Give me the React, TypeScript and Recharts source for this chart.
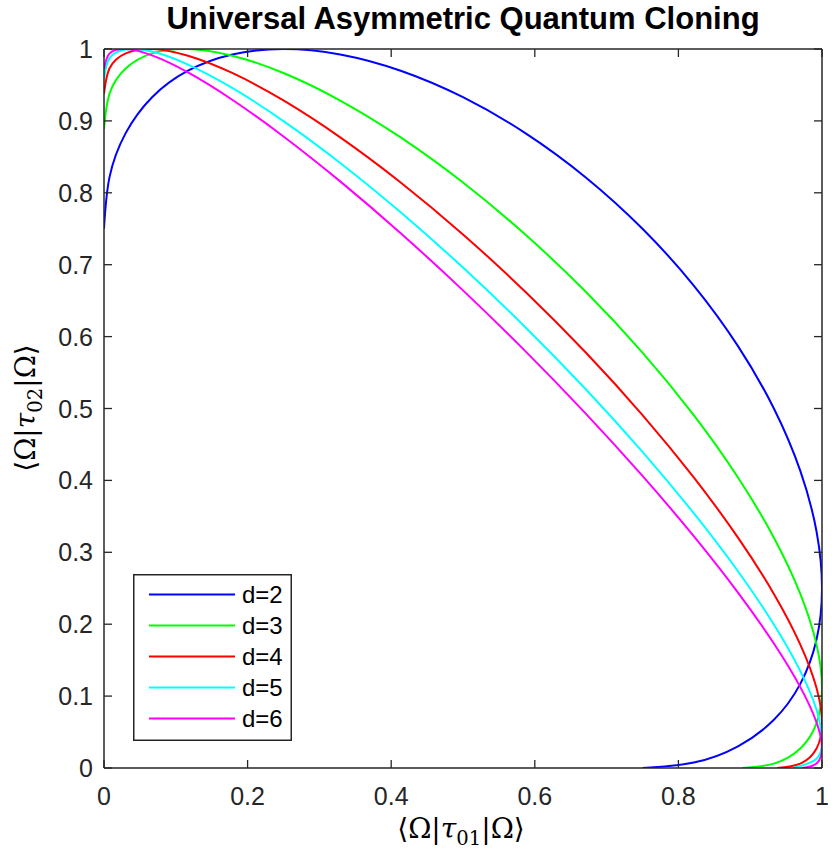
import React from "react";
import { LineChart, Line, XAxis, YAxis, Legend } from "recharts";

// x = <Omega|tau01|Omega>, y = <Omega|tau02|Omega>
const d2X = [0, 0.0076, 0.0302, 0.067, 0.117, 0.1786, 0.25, 0.329, 0.4132, 0.5, 0.5868, 0.671, 0.75, 0.8214, 0.883, 0.933, 0.9698, 0.9924, 1, 0.9924, 0.9698, 0.933, 0.883, 0.8214, 0.75];
const d2Y = [0.75, 0.8214, 0.883, 0.933, 0.9698, 0.9924, 1, 0.9924, 0.9698, 0.933, 0.883, 0.8214, 0.75, 0.671, 0.5868, 0.5, 0.4132, 0.329, 0.25, 0.1786, 0.117, 0.067, 0.0302, 0.0076, 0];

const d3X = [0, 0.0076, 0.0302, 0.067, 0.117, 0.1786, 0.25, 0.329, 0.4132, 0.5, 0.5868, 0.671, 0.75, 0.8214, 0.883, 0.933, 0.9698, 0.9924, 1, 0.9924, 0.9698, 0.933, 0.8889];
const d3Y = [0.8889, 0.9376, 0.9729, 0.9939, 0.9999, 0.9907, 0.9666, 0.9283, 0.877, 0.8143, 0.742, 0.6623, 0.5777, 0.4908, 0.4041, 0.3203, 0.2421, 0.1716, 0.1111, 0.0624, 0.0271, 0.0061, 0];

const d4X = [0, 0.0076, 0.0302, 0.067, 0.117, 0.1786, 0.25, 0.329, 0.4132, 0.5, 0.5868, 0.671, 0.75, 0.8214, 0.883, 0.933, 0.9698, 0.9924, 1, 0.9924, 0.9698, 0.9375];
const d4Y = [0.9375, 0.9729, 0.9939, 0.9999, 0.9907, 0.9667, 0.9284, 0.8771, 0.8144, 0.7421, 0.6624, 0.5778, 0.4909, 0.4042, 0.3204, 0.2421, 0.1717, 0.1112, 0.0625, 0.0271, 0.0061, 0];

const d5X = [0, 0.0076, 0.0302, 0.067, 0.117, 0.1786, 0.25, 0.329, 0.4132, 0.5, 0.5868, 0.671, 0.75, 0.8214, 0.883, 0.933, 0.9698, 0.9924, 1, 0.9924, 0.96];
const d5Y = [0.96, 0.987, 0.9993, 0.9964, 0.9783, 0.9458, 0.8997, 0.8415, 0.7729, 0.696, 0.6131, 0.5268, 0.4397, 0.3544, 0.2736, 0.1996, 0.1348, 0.081, 0.04, 0.013, 0];

const d6X = [0, 0.0076, 0.0302, 0.067, 0.117, 0.1786, 0.25, 0.329, 0.4132, 0.5, 0.5868, 0.671, 0.75, 0.8214, 0.883, 0.933, 0.9698, 0.9924, 1, 0.9924, 0.9722];
const d6Y = [0.9722, 0.9936, 0.99995, 0.9911, 0.9674, 0.9294, 0.8784, 0.8159, 0.7438, 0.6643, 0.5798, 0.4929, 0.4062, 0.3224, 0.2439, 0.1732, 0.1125, 0.0635, 0.0278, 0.0064, 0];

const xTicks = [0, 0.2, 0.4, 0.6, 0.8, 1];
const yTicks = [0, 0.1, 0.2, 0.3, 0.4, 0.5, 0.6, 0.7, 0.8, 0.9, 1];

const zip = (xs: number[], ys: number[]) => xs.map((x, i) => ({ x, y: ys[i] }));

const series = [
  { name: "d=2", color: "#0000ff", data: zip(d2X, d2Y) },
  { name: "d=3", color: "#00ff00", data: zip(d3X, d3Y) },
  { name: "d=4", color: "#ff0000", data: zip(d4X, d4Y) },
  { name: "d=5", color: "#00ffff", data: zip(d5X, d5Y) },
  { name: "d=6", color: "#ff00ff", data: zip(d6X, d6Y) },
];

const FONT = "'Liberation Sans', Arial, Helvetica, sans-serif";
const SERIF = "'DejaVu Serif', 'Liberation Serif', serif";
const AXIS = "#262626";
const TICK = 8;

const BottomTick = (props: any) => {
  const { x, y, payload } = props;
  return (
    <g>
      <line x1={x} y1={y} x2={x} y2={y - TICK} stroke={AXIS} strokeWidth={1.3} />
      <text x={x} y={y + 37} textAnchor="middle" fontFamily={FONT} fontSize={25} fill={AXIS}>
        {String(payload.value)}
      </text>
    </g>
  );
};

const LeftTick = (props: any) => {
  const { x, y, payload } = props;
  return (
    <g>
      <line x1={x} y1={y} x2={x + TICK} y2={y} stroke={AXIS} strokeWidth={1.3} />
      <text x={x - 11} y={y + 9} textAnchor="end" fontFamily={FONT} fontSize={25} fill={AXIS}>
        {String(payload.value)}
      </text>
    </g>
  );
};

const TopTick = (props: any) => {
  const { x, y } = props;
  return <line x1={x} y1={y} x2={x} y2={y + TICK} stroke={AXIS} strokeWidth={1.3} />;
};

const RightTick = (props: any) => {
  const { x, y } = props;
  return <line x1={x} y1={y} x2={x - TICK} y2={y} stroke={AXIS} strokeWidth={1.3} />;
};

const LegendBox = (props: any) => {
  const items = props.payload || [];
  const w = 159;
  const h = 167;
  return (
    <svg width={w} height={h} style={{ display: "block" }}>
      <rect x={0.75} y={0.75} width={w - 1.5} height={h - 1.5} fill="#fff" stroke={AXIS} strokeWidth={1.5} />
      {items.map((it: any, i: number) => {
        const cy = 20.5 + i * 31;
        return (
          <g key={it.value}>
            <line x1={16} y1={cy} x2={102} y2={cy} stroke={it.color} strokeWidth={2} />
            <text x={109} y={cy + 8.5} fontFamily={FONT} fontSize={24} fill="#000">
              {it.value}
            </text>
          </g>
        );
      })}
    </svg>
  );
};

export default function App() {
  return (
    <div style={{ position: "absolute", left: 0, top: 0, width: 832, height: 850, background: "#fff" }}>
      <div
        style={{
          position: "absolute",
          left: 104,
          width: 718,
          top: 3,
          textAlign: "center",
          fontFamily: FONT,
          fontWeight: "bold",
          fontSize: 31,
          lineHeight: "32px",
          color: "#000",
          whiteSpace: "nowrap",
        }}
      >
        Universal Asymmetric Quantum Cloning
      </div>

      <LineChart width={832} height={850} margin={{ top: 0, right: 0, bottom: 0, left: 0 }}>
        <XAxis
          xAxisId="b"
          dataKey="x"
          type="number"
          domain={[0, 1]}
          allowDataOverflow
          ticks={xTicks}
          height={82}
          tickSize={0}
          tickMargin={0}
          tickLine={false}
          axisLine={{ stroke: AXIS, strokeWidth: 1.5 }}
          tick={<BottomTick />}
          interval={0}
        />
        <XAxis
          xAxisId="t"
          orientation="top"
          dataKey="x"
          type="number"
          domain={[0, 1]}
          allowDataOverflow
          ticks={xTicks}
          height={49}
          tickSize={0}
          tickMargin={0}
          tickLine={false}
          axisLine={{ stroke: AXIS, strokeWidth: 1.5 }}
          tick={<TopTick />}
          interval={0}
        />
        <YAxis
          yAxisId="l"
          type="number"
          domain={[0, 1]}
          allowDataOverflow
          ticks={yTicks}
          width={104}
          tickSize={0}
          tickMargin={0}
          tickLine={false}
          axisLine={{ stroke: AXIS, strokeWidth: 1.5 }}
          tick={<LeftTick />}
          interval={0}
        />
        <YAxis
          yAxisId="r"
          orientation="right"
          type="number"
          domain={[0, 1]}
          allowDataOverflow
          ticks={yTicks}
          width={10}
          tickSize={0}
          tickMargin={0}
          tickLine={false}
          axisLine={{ stroke: AXIS, strokeWidth: 1.5 }}
          tick={<RightTick />}
          interval={0}
        />
        {series.map((s) => (
          <Line
            key={s.name}
            xAxisId="b"
            yAxisId="l"
            data={s.data}
            dataKey="y"
            name={s.name}
            type="natural"
            stroke={s.color}
            strokeWidth={2}
            dot={false}
            activeDot={false}
            isAnimationActive={false}
          />
        ))}
        <Legend
          layout="vertical"
          align="center"
          verticalAlign="middle"
          content={<LegendBox />}
          wrapperStyle={{ left: 133, top: 574, width: 159, height: 167 }}
        />
      </LineChart>

      <div
        style={{
          position: "absolute",
          left: 461,
          top: 831,
          transform: "translate(-50%, -50%)",
          fontFamily: SERIF,
          fontSize: 28,
          whiteSpace: "nowrap",
          color: "#000",
        }}
      >
        ⟨Ω|<span style={{ fontStyle: "italic" }}>τ</span>
        <sub style={{ fontSize: "0.7em" }}>01</sub>|Ω⟩
      </div>
      <div
        style={{
          position: "absolute",
          left: 28,
          top: 408,
          transform: "translate(-50%, -50%) rotate(-90deg)",
          fontFamily: SERIF,
          fontSize: 28,
          whiteSpace: "nowrap",
          color: "#000",
        }}
      >
        ⟨Ω|<span style={{ fontStyle: "italic" }}>τ</span>
        <sub style={{ fontSize: "0.7em" }}>02</sub>|Ω⟩
      </div>
    </div>
  );
}
